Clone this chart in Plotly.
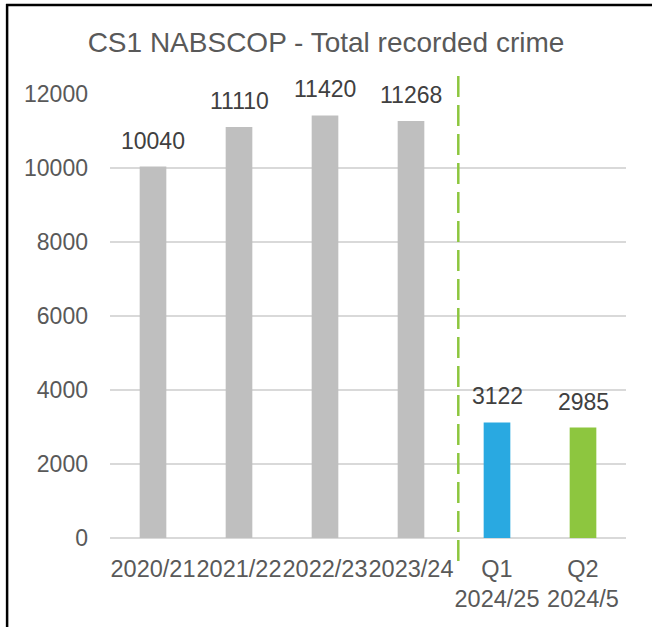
import plotly.graph_objects as go

# Data
categories = ["2020/21", "2021/22", "2022/23", "2023/24", "Q1<br>2024/25", "Q2<br>2024/5"]
crimes = [10040, 11110, 11420, 11268, 3122, 2985]
bar_colors = ["#BFBFBF", "#BFBFBF", "#BFBFBF", "#BFBFBF", "#29A9E1", "#8DC63F"]
y_ticks = [0, 2000, 4000, 6000, 8000, 10000, 12000]

W, H = 652, 627
ML, MR, MT, MB = 110, 25.5, 94, 89
PW, PH = W - ML - MR, H - MT - MB

FONT = "Liberation Sans, Arial, sans-serif"
TXT = "#595959"


def px_x(px):
    return (px - ML) / PW


def px_y(py):
    return (H - MB - py) / PH


fig = go.Figure(
    go.Bar(
        x=list(range(len(categories))),
        y=crimes,
        marker=dict(color=bar_colors, line=dict(width=0)),
        hoverinfo="skip",
    )
)

# value labels above each bar
for i, v in enumerate(crimes):
    fig.add_annotation(
        x=i, y=v, text=str(v), showarrow=False,
        yanchor="middle", yshift=26,
        font=dict(family=FONT, size=23, color="#404040"),
    )

# dashed separator between annual figures and quarterly figures
fig.add_shape(
    type="line", xref="x", yref="paper",
    x0=3.55, x1=3.55, y0=px_y(561), y1=px_y(75),
    line=dict(color="#8DC63F", width=2.5, dash="21px,8px"),
)

# frame edges (top and left)
fig.add_shape(
    type="line", xref="paper", yref="paper",
    x0=px_x(6), x1=px_x(W + 2), y0=px_y(5), y1=px_y(5),
    line=dict(color="black", width=2.5),
)
fig.add_shape(
    type="line", xref="paper", yref="paper",
    x0=px_x(7), x1=px_x(7), y0=px_y(4), y1=px_y(H + 2),
    line=dict(color="black", width=2.5),
)

fig.update_layout(
    width=W, height=H,
    margin=dict(l=ML, r=MR, t=MT, b=MB, autoexpand=False),
    paper_bgcolor="white", plot_bgcolor="white",
    bargap=0.69,
    showlegend=False,
    title=dict(
        text="CS1 NABSCOP - Total recorded crime",
        x=0.5, xref="container", xanchor="center",
        y=1 - 42 / H, yref="container", yanchor="middle",
        font=dict(family=FONT, size=28, color=TXT),
    ),
    xaxis=dict(
        tickmode="array",
        tickvals=list(range(len(categories))),
        ticktext=categories,
        range=[-0.5, len(categories) - 0.5],
        showgrid=False, zeroline=False, showline=False,
        ticks="", ticklabelstandoff=14, tickangle=0, automargin=False,
        tickfont=dict(family=FONT, size=23.5, color=TXT),
        fixedrange=True,
    ),
    yaxis=dict(
        range=[0, 12000],
        tickmode="array", tickvals=y_ticks,
        ticktext=[str(t) for t in y_ticks],
        showgrid=True, gridcolor="#D9D9D9", gridwidth=1.5,
        zeroline=True, zerolinecolor="#D9D9D9", zerolinewidth=2,
        showline=False, ticks="", ticklabelstandoff=21, automargin=False,
        tickfont=dict(family=FONT, size=23, color=TXT),
        fixedrange=True,
    ),
)

fig.write_html("out.html")
